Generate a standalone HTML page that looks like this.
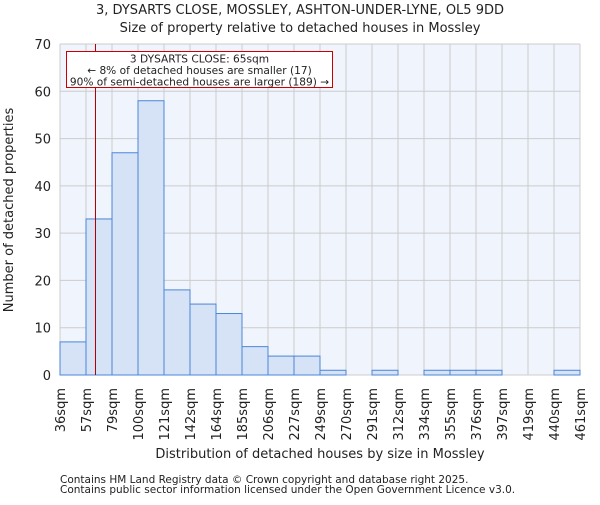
<!DOCTYPE html>
<html><head><meta charset="utf-8"><style>body{margin:0;background:#fff}svg text{font-family:"DejaVu Sans","Liberation Sans",sans-serif;fill:#222}</style></head>
<body>
<svg id="c" width="600" height="500"></svg>
<script>
const edges=["36sqm","57sqm","79sqm","100sqm","121sqm","142sqm","164sqm","185sqm","206sqm","227sqm","249sqm","270sqm","291sqm","312sqm","334sqm","355sqm","376sqm","397sqm","419sqm","440sqm","461sqm"];
const counts=[7,33,47,58,18,15,13,6,4,4,1,0,1,0,1,1,1,0,0,1];
const yTicks=[0,10,20,30,40,50,60,70];
const propertyX=65, binStart=36, binWidth=21.25;
const L=60,R=580,T=44,B=375,ymax=70;
const svg=document.getElementById('c');const NS='http://www.w3.org/2000/svg';
function el(t,a,p){const e=document.createElementNS(NS,t);for(const k in a)e.setAttribute(k,a[k]);(p||svg).appendChild(e);return e;}
const bw=(R-L)/counts.length;
const xs=i=>L+i*bw, ys=v=>B-(v/ymax)*(B-T);
let bg=el('rect',{x:L,y:T,width:R-L,height:B-T,fill:'#f0f4fd'});

yTicks.forEach(v=>{let g=el('line',{x1:L,x2:R,y1:ys(v),y2:ys(v),stroke:'#ccc','stroke-width':1});

let t=el('text',{x:L-9,y:ys(v)+5,'text-anchor':'end','font-size':13});t.textContent=v;
});
edges.forEach((e,i)=>{let g=el('line',{x1:xs(i),x2:xs(i),y1:T,y2:B,stroke:'#ccc','stroke-width':1});

let t=el('text',{x:0,y:0,'text-anchor':'end','font-size':13,transform:`translate(${xs(i)+5},388) rotate(-90)`});t.textContent=e;
});
counts.forEach((v,i)=>{if(!v)return;let r=el('rect',{x:xs(i),y:ys(v),width:bw,height:B-ys(v),fill:'#d6e2f5',stroke:'#4a86d8','stroke-width':1});
});
const px=L+(propertyX-binStart)/binWidth*bw;
let ml=el('line',{x1:px,x2:px,y1:T,y2:B,stroke:'#a00','stroke-width':1});

let ab=el('rect',{x:66.5,y:51.5,width:266,height:36,fill:'#fff',stroke:'#c00','stroke-width':1});

["3 DYSARTS CLOSE: 65sqm","← 8% of detached houses are smaller (17)","90% of semi-detached houses are larger (189) →"].forEach((s,i)=>{
let t=el('text',{x:199.5,y:62.5+i*11.5,'text-anchor':'middle','font-size':10.6});t.textContent=s;
});
let t1=el('text',{x:300,y:14,'text-anchor':'middle','font-size':13});t1.textContent="3, DYSARTS CLOSE, MOSSLEY, ASHTON-UNDER-LYNE, OL5 9DD";

let t2=el('text',{x:300,y:32,'text-anchor':'middle','font-size':13});t2.textContent="Size of property relative to detached houses in Mossley";

let xt=el('text',{x:320,y:458,'text-anchor':'middle','font-size':13});xt.textContent="Distribution of detached houses by size in Mossley";

let yt=el('text',{x:0,y:0,'text-anchor':'middle','font-size':13,transform:'translate(13,210) rotate(-90)'});yt.textContent="Number of detached properties";

["Contains HM Land Registry data © Crown copyright and database right 2025.","Contains public sector information licensed under the Open Government Licence v3.0."].forEach((s,i)=>{
let t=el('text',{x:60,y:483+i*10,'font-size':10.5,fill:'#444'});t.textContent=s;
});
</script>
</body></html>
